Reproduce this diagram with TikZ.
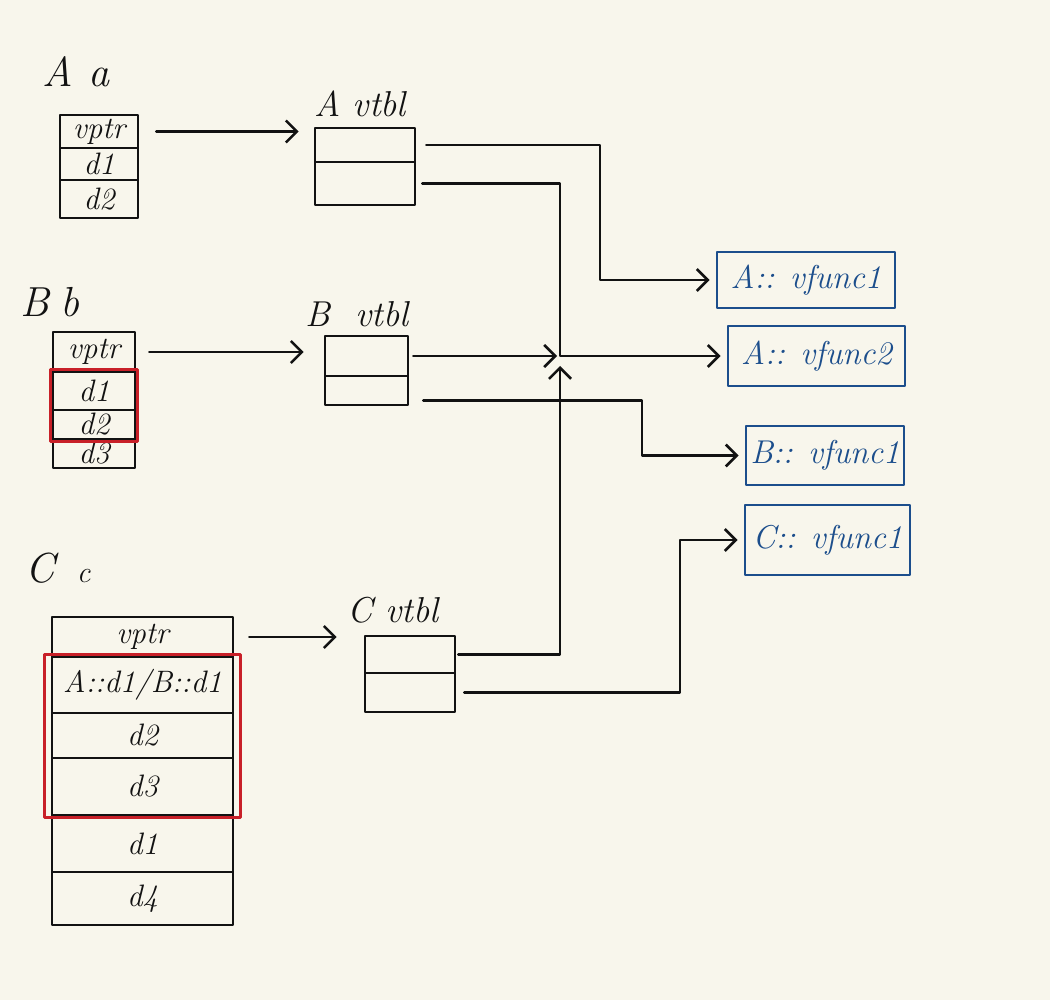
\documentclass[tikz,border=0pt]{standalone}
\usetikzlibrary{arrows.meta,fit}
\definecolor{paper}{RGB}{248,246,236}
\definecolor{ink}{RGB}{18,18,18}
\definecolor{pen}{RGB}{28,78,140}
\definecolor{redpen}{RGB}{200,32,40}
\begin{document}
\begin{tikzpicture}[x=1pt,y=-1pt,
  line cap=round, line join=round,
  cell/.style={draw=ink,line width=2.6pt,inner sep=0pt,text=ink,
    font=\fontsize{31}{31}\selectfont\itshape},
  acell/.style={cell,minimum width=78pt},
  bcell/.style={cell,minimum width=82pt},
  ccell/.style={cell,minimum width=181pt},
  vcell/.style={draw=ink,line width=2.6pt,inner sep=0pt},
  lab/.style={text=ink,inner sep=0pt,font=\fontsize{42}{42}\selectfont\itshape},
  vlab/.style={text=ink,inner sep=0pt,font=\fontsize{36}{36}\selectfont\itshape},
  fbox/.style={draw=pen,line width=2.8pt,text=pen,inner sep=0pt,
    font=\fontsize{33}{33}\selectfont\itshape},
  redbox/.style={draw=redpen,line width=2.6pt,inner sep=1pt},
  conn/.style={draw=ink,line width=2.6pt,
    -{Straight Barb[length=11pt,width=22pt,line width=2.6pt]},shorten >=6pt}
]
\fill[paper] (0,0) rectangle (1050,1000);
\useasboundingbox (0,0) rectangle (1050,1000);

% labels
\node[lab] (labA) at (76,72) {A a};
\node[lab] (labB) at (50,302) {B\hspace{12pt}b};
\node[lab] (labC) at (58,568) {C\hspace{22pt}{\fontsize{30}{30}\selectfont c}};
\node[vlab] (labAv) at (360,104) {A vtbl};
\node[vlab] (labBv) at (357,314) {B\hspace{25pt}vtbl};
\node[vlab] (labCv) at (393,610) {C vtbl};

% object a
\node[acell,minimum height=33pt] (a1) at (99,131.5) {vptr};
\node[acell,minimum height=32pt] (a2) at (99,164) {d1};
\node[acell,minimum height=38pt] (a3) at (99,199) {d2};

% object b
\node[bcell,minimum height=40pt] (b1) at (94,352) {vptr};
\node[bcell,minimum height=38pt] (b2) at (94,391) {d1};
\node[bcell,minimum height=29pt] (b3) at (94,424.5) {d2};
\node[bcell,minimum height=29pt] (b4) at (94,453.5) {d3};
\node[redbox,fit=(b2)(b3)] (rb) {};

% object c
\node[ccell,minimum height=40pt] (c1) at (142.5,637) {vptr};
\node[ccell,minimum height=56pt] (c2) at (142.5,685) {A::d1/B::d1};
\node[ccell,minimum height=45pt] (c3) at (142.5,735.5) {d2};
\node[ccell,minimum height=57pt] (c4) at (142.5,786.5) {d3};
\node[ccell,minimum height=57pt] (c5) at (142.5,843.5) {d1};
\node[ccell,minimum height=53pt] (c6) at (142.5,898.5) {d4};
\node[redbox,inner xsep=6pt,inner ysep=1pt,fit=(c2)(c4)] (rc) {};

% vtables
\node[vcell,minimum width=100pt,minimum height=34pt] (av1) at (365,145) {};
\node[vcell,minimum width=100pt,minimum height=43pt] (av2) at (365,183.5) {};
\node[vcell,minimum width=83pt,minimum height=40pt] (bv1) at (366.5,356) {};
\node[vcell,minimum width=83pt,minimum height=29pt] (bv2) at (366.5,390.5) {};
\node[vcell,minimum width=90pt,minimum height=37pt] (cv1) at (410,654.5) {};
\node[vcell,minimum width=90pt,minimum height=39pt] (cv2) at (410,692.5) {};

% functions
\node[fbox,minimum width=178pt,minimum height=56pt] (af1) at (806,280) {A:: vfunc1};
\node[fbox,minimum width=177pt,minimum height=60pt] (af2) at (816.5,356) {A:: vfunc2};
\node[fbox,minimum width=158pt,minimum height=59pt] (bf) at (825,455.5) {B:: vfunc1};
\node[fbox,minimum width=165pt,minimum height=70pt] (cf) at (827.5,540) {C:: vfunc1};

% helper coordinates
\coordinate (hub) at (560,356);
\coordinate (t1) at (600,200);
\coordinate (t2) at (642,420);
\coordinate (t3) at (680,600);

% vptr arrows
\draw[conn,shorten >=0pt] ([xshift=17pt]a1.east) -- ([xshift=-15pt]av1.west |- a1.east);
\draw[conn,shorten >=0pt] ([xshift=13pt]b1.east) -- ([xshift=-20pt]bv1.west |- b1.east);
\draw[conn,shorten >=0pt] ([xshift=15pt]c1.east) -- ([xshift=-27pt]cv1.west |- c1.east);

% vtable entries
\draw[conn] ([xshift=10pt]av1.east) -| (t1) |- (af1.west);
\draw[conn] ([xshift=6pt]av2.east) -| (hub) -- (af2.west);
\draw[conn,shorten >=3pt] ([xshift=4pt]bv1.east) -- (hub);
\draw[conn] ([shift={(14pt,-10pt)}]bv2.east) -| (t2) |- (bf.west);
\draw[conn,shorten >=10pt] ([xshift=2pt]cv1.east) -| (hub);
\draw[conn] ([xshift=8pt]cv2.east) -| (t3) |- (cf.west);
\end{tikzpicture}
\end{document}
